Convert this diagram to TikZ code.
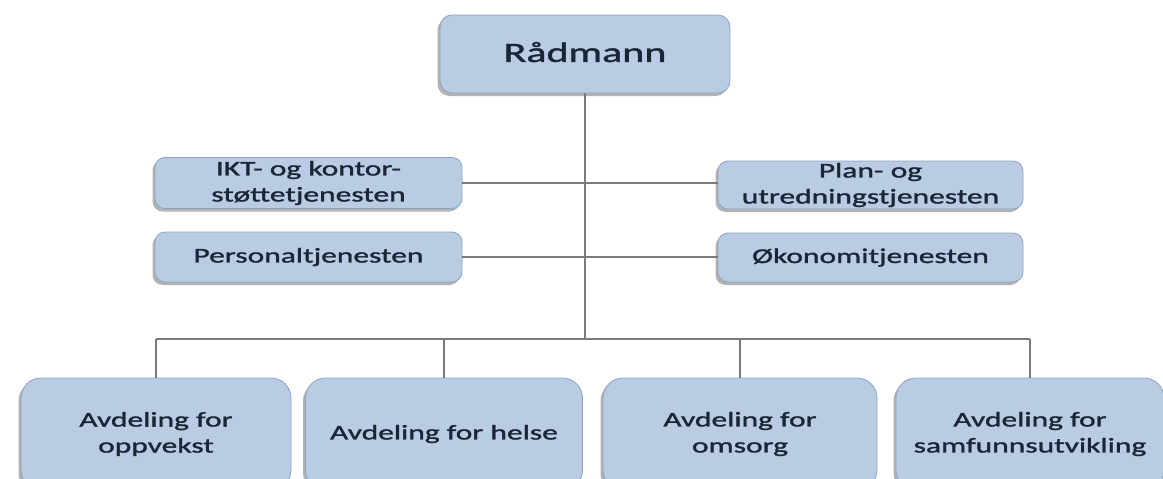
\documentclass[tikz,border=0pt]{standalone}
\usepackage{fontspec}
\setmainfont{Carlito}[FakeStretch=1.5,FakeBold=1.4]
\usetikzlibrary{shadows}
\definecolor{boxfill}{HTML}{B9CCE4}
\definecolor{boxline}{HTML}{8EA3BF}
\definecolor{txtcol}{HTML}{1A2635}
\definecolor{conncol}{HTML}{7A7A7A}
\begin{document}
\begin{tikzpicture}[x=1pt,y=-1pt,
  box/.style={draw=boxline, line width=0.8pt, fill=boxfill, text=txtcol, align=center, inner sep=0pt,
    drop shadow={shadow xshift=-2.5pt, shadow yshift=-3pt, opacity=0.5, fill=black!60}},
  small/.style={font=\fontsize{21}{26}\selectfont},
  conn/.style={draw=conncol, line width=1.6pt}]
\useasboundingbox (0,0) rectangle (1163,479);
\clip (0,0) rectangle (1163,479);
% top
\node[box, rounded corners=12pt, minimum width=290pt, minimum height=78pt, text depth=4pt, font=\fontsize{28}{34}\selectfont] (rad) at (585,54) {Rådmann};
% staff units
\node[box, small, rounded corners=10pt, minimum width=307pt, minimum height=51pt] (ikt) at (308.5,183) {IKT- og kontor-\\støttetjenesten};
\node[box, small, rounded corners=10pt, minimum width=307pt, minimum height=50pt] (pers) at (308.5,257) {Personaltjenesten};
\node[box, small, rounded corners=10pt, minimum width=305pt, minimum height=48pt] (plan) at (870.5,185) {Plan- og\\utredningstjenesten};
\node[box, small, rounded corners=10pt, minimum width=305pt, minimum height=49pt] (oko) at (870.5,257.5) {Økonomitjenesten};
% departments
\node[box, small, rounded corners=20pt, minimum width=270pt, minimum height=112pt] (b1) at (156,434) {Avdeling for\\oppvekst};
\node[box, small, rounded corners=20pt, minimum width=277pt, minimum height=112pt] (b2) at (444,434) {Avdeling for helse};
\node[box, small, rounded corners=20pt, minimum width=274pt, minimum height=112pt] (b3) at (740,434) {Avdeling for\\omsorg};
\node[box, small, rounded corners=20pt, minimum width=268pt, minimum height=112pt] (b4) at (1030,434) {Avdeling for\\samfunnsutvikling};
% connectors
\coordinate (bus) at (585,339);
\coordinate (busL) at (156,339);
\coordinate (busR) at (1030,339);
\draw[conn] (rad.south) -- (bus);
\draw[conn] (ikt.east) -- (ikt.east -| plan.west);
\draw[conn] (pers.east) -- (pers.east -| oko.west);
\draw[conn] (busL) -- (busR);
\draw[conn] (b1.north) -- (busL);
\draw[conn] (b2.north) -- (b2.north |- bus);
\draw[conn] (b3.north) -- (b3.north |- bus);
\draw[conn] (b4.north) -- (busR);
\end{tikzpicture}
\end{document}
